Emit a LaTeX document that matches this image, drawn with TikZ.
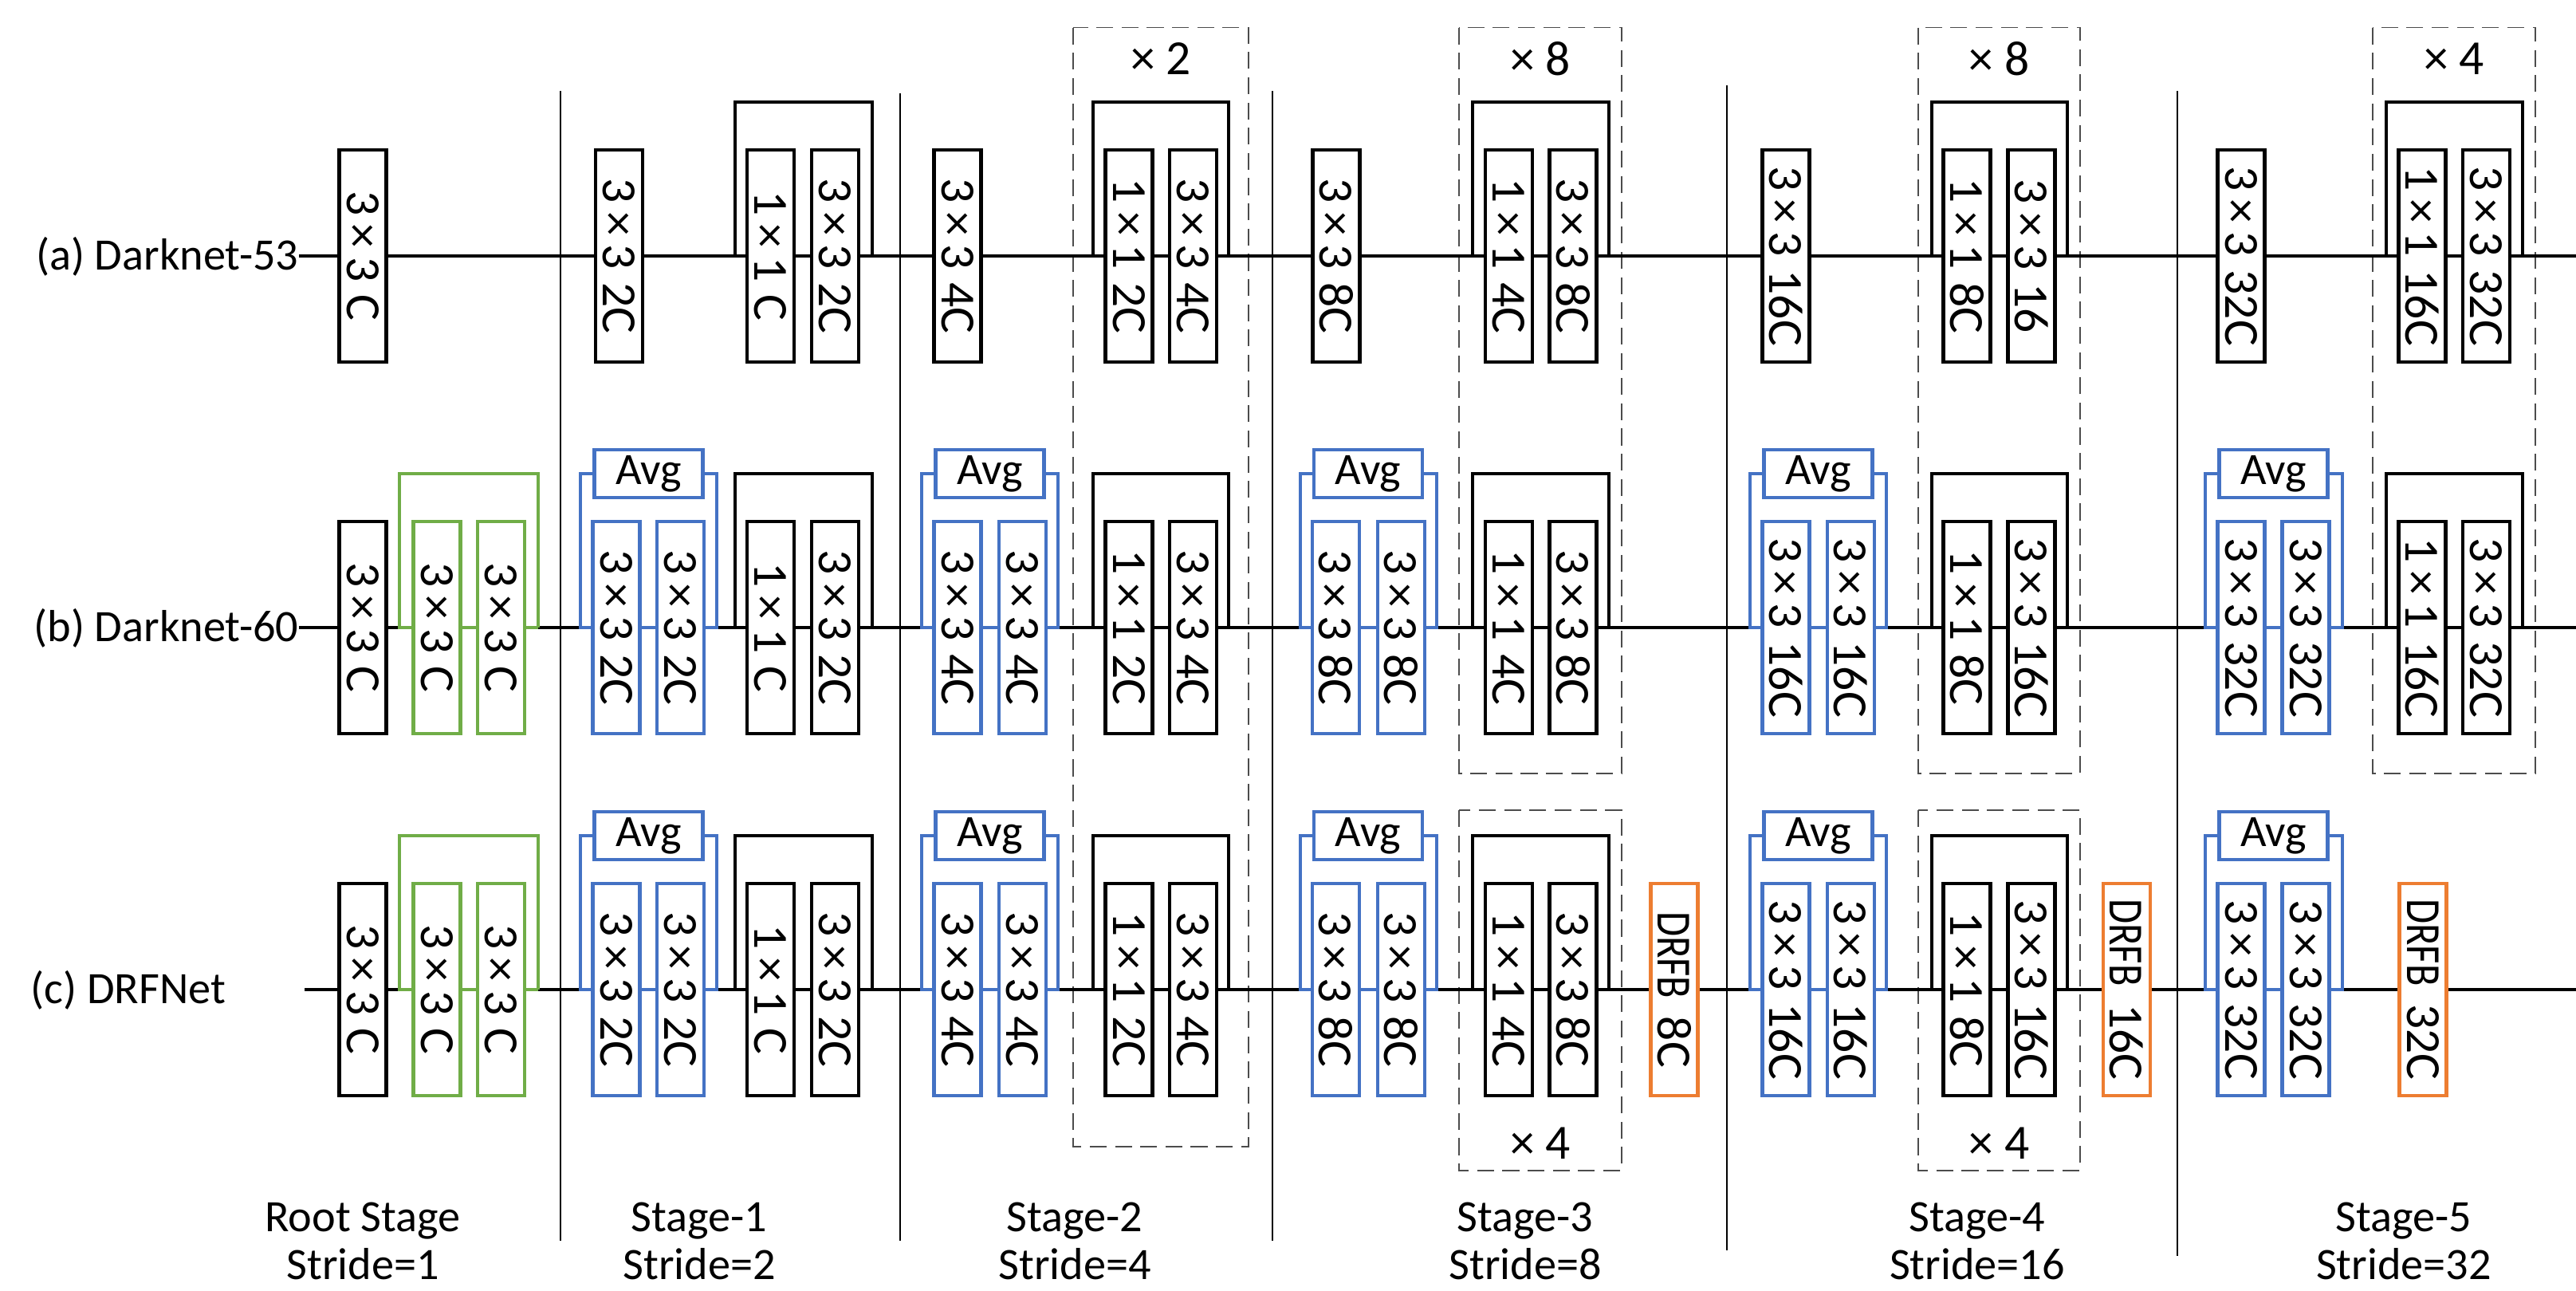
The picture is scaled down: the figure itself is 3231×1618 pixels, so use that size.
\documentclass[tikz,border=0pt]{standalone}
\usepackage{fontspec}
\setmainfont{Carlito}
\usepackage{graphicx}
\definecolor{myblue}{HTML}{4472C4}
\definecolor{mygreen}{HTML}{70AD47}
\definecolor{myorange}{HTML}{ED7D31}
\pgfdeclarelayer{background}
\pgfsetlayers{background,main}
\newcommand{\bxf}{\fontsize{17.5}{21}\selectfont}
\newcommand{\lbf}{\fontsize{16}{19}\selectfont}
\newcommand{\cv}[3]{\rotatebox{-90}{#1\kern0.17em×\kern0.17em#2\hspace{0.27em}#3}}
\newcommand{\dr}[1]{\rotatebox{-90}{\scalebox{0.82}[1]{DRFB}\hspace{0.37em}#1}}
\newcommand{\resbr}[4]{\coordinate (#1L) at (#2,#4); \coordinate (#1R) at (#3,#4);
  \draw[wire] (#1L) -- ++(0,-193) -| (#1R);}
\newcommand{\grnbr}[4]{\coordinate (#1L) at (#2,#4); \coordinate (#1R) at (#3,#4);
  \draw[gwire] (#1R) -- (#1L) -- ++(0,-193) -| (#1R);}
\newcommand{\avgbr}[4]{\coordinate (#1L) at (#2,#4); \coordinate (#1R) at (#3,#4);
  \draw[bwire] (#1.west) -| (#1L) -- (#1R) |- (#1.east);}
\begin{document}
\begin{tikzpicture}[x=0.01cm,y=-0.01cm,
  cb/.style={draw=black, fill=white, line width=1.2pt, minimum width=0.59cm, minimum height=2.66cm, inner sep=0pt, font=\bxf},
  cblue/.style={cb, draw=myblue},
  cgreen/.style={cb, draw=mygreen},
  corange/.style={cb, draw=myorange},
  avgbox/.style={draw=myblue, fill=white, line width=1.2pt, minimum width=1.36cm, minimum height=0.60cm, inner sep=0pt, font=\lbf},
  wire/.style={line width=1.2pt, draw=black},
  bwire/.style={line width=1.1pt, draw=myblue},
  gwire/.style={line width=1.1pt, draw=mygreen},
  sep/.style={line width=0.8pt, draw=black},
  rep/.style={draw=black!70, line width=0.5pt, dash pattern=on 6pt off 3pt},
  lbl/.style={font=\lbf, inner sep=0pt},
  cnt/.style={font=\bxf, inner sep=0pt}]
\useasboundingbox (0,0) rectangle (3231,1618);

% ---------- row labels ----------
\node[lbl, anchor=base east] (la) at (375,338.5) {(a) Darknet-53};
\node[lbl, anchor=base east] (lb) at (375,804.5) {(b) Darknet-60};
\node[lbl, anchor=base west] (lc) at (38,1258.5) {(c) DRFNet};
\coordinate (cS) at (382,1241);
\coordinate (aE) at (3231,321);
\coordinate (bE) at (3231,787);
\coordinate (cE) at (3231,1241);

% ---------- row (a) ----------
\node[cb] (a0) at (455,321) {\cv{3}{3}{C}};
\node[cb] (a1) at (776.5,321) {\cv{3}{3}{2C}};
\node[cb] (a2) at (966.5,321) {\cv{1}{1}{C}};
\node[cb] (a3) at (1047.5,321) {\cv{3}{3}{2C}};
\node[cb] (a4) at (1201,321) {\cv{3}{3}{4C}};
\node[cb] (a5) at (1416,321) {\cv{1}{1}{2C}};
\node[cb] (a6) at (1496.5,321) {\cv{3}{3}{4C}};
\node[cb] (a7) at (1676,321) {\cv{3}{3}{8C}};
\node[cb] (a8) at (1892.5,321) {\cv{1}{1}{4C}};
\node[cb] (a9) at (1973,321) {\cv{3}{3}{8C}};
\node[cb] (a10) at (2240,321) {\cv{3}{3}{16C}};
\node[cb] (a11) at (2467,321) {\cv{1}{1}{8C}};
\node[cb] (a12) at (2548,321) {\cv{3}{3}{16}};
\node[cb] (a13) at (2811,321) {\cv{3}{3}{32C}};
\node[cb] (a14) at (3038,321) {\cv{1}{1}{16C}};
\node[cb] (a15) at (3118.5,321) {\cv{3}{3}{32C}};

% ---------- row (b) ----------
\node[cb] (b0) at (455,787) {\cv{3}{3}{C}};
\node[cgreen] (g1) at (548,787) {\cv{3}{3}{C}};
\node[cgreen] (g2) at (628.5,787) {\cv{3}{3}{C}};
\node[cblue] (b1) at (773,787) {\cv{3}{3}{2C}};
\node[cblue] (b2) at (853.5,787) {\cv{3}{3}{2C}};
\node[cb] (b3) at (966.5,787) {\cv{1}{1}{C}};
\node[cb] (b4) at (1047.5,787) {\cv{3}{3}{2C}};
\node[cblue] (b5) at (1201,787) {\cv{3}{3}{4C}};
\node[cblue] (b6) at (1282.5,787) {\cv{3}{3}{4C}};
\node[cb] (b7) at (1416,787) {\cv{1}{1}{2C}};
\node[cb] (b8) at (1496.5,787) {\cv{3}{3}{4C}};
\node[cblue] (b9) at (1675.5,787) {\cv{3}{3}{8C}};
\node[cblue] (b10) at (1757.5,787) {\cv{3}{3}{8C}};
\node[cb] (b11) at (1892.5,787) {\cv{1}{1}{4C}};
\node[cb] (b12) at (1973,787) {\cv{3}{3}{8C}};
\node[cblue] (b13) at (2240,787) {\cv{3}{3}{16C}};
\node[cblue] (b14) at (2321.5,787) {\cv{3}{3}{16C}};
\node[cb] (b15) at (2467,787) {\cv{1}{1}{8C}};
\node[cb] (b16) at (2548,787) {\cv{3}{3}{16C}};
\node[cblue] (b17) at (2811,787) {\cv{3}{3}{32C}};
\node[cblue] (b18) at (2892,787) {\cv{3}{3}{32C}};
\node[cb] (b19) at (3038,787) {\cv{1}{1}{16C}};
\node[cb] (b20) at (3118.5,787) {\cv{3}{3}{32C}};
\node[avgbox] (av1b) at (813.5,594) {Avg};
\node[avgbox] (av2b) at (1241.5,594) {Avg};
\node[avgbox] (av3b) at (1716,594) {Avg};
\node[avgbox] (av4b) at (2280.5,594) {Avg};
\node[avgbox] (av5b) at (2851.5,594) {Avg};

% ---------- row (c) ----------
\node[cb] (c0) at (455,1241) {\cv{3}{3}{C}};
\node[cgreen] (h1) at (548,1241) {\cv{3}{3}{C}};
\node[cgreen] (h2) at (628.5,1241) {\cv{3}{3}{C}};
\node[cblue] (c1) at (773,1241) {\cv{3}{3}{2C}};
\node[cblue] (c2) at (853.5,1241) {\cv{3}{3}{2C}};
\node[cb] (c3) at (966.5,1241) {\cv{1}{1}{C}};
\node[cb] (c4) at (1047.5,1241) {\cv{3}{3}{2C}};
\node[cblue] (c5) at (1201,1241) {\cv{3}{3}{4C}};
\node[cblue] (c6) at (1282.5,1241) {\cv{3}{3}{4C}};
\node[cb] (c7) at (1416,1241) {\cv{1}{1}{2C}};
\node[cb] (c8) at (1496.5,1241) {\cv{3}{3}{4C}};
\node[cblue] (c9) at (1675.5,1241) {\cv{3}{3}{8C}};
\node[cblue] (c10) at (1757.5,1241) {\cv{3}{3}{8C}};
\node[cb] (c11) at (1892.5,1241) {\cv{1}{1}{4C}};
\node[cb] (c12) at (1973,1241) {\cv{3}{3}{8C}};
\node[corange] (d1) at (2100,1241) {\dr{8C}};
\node[cblue] (c13) at (2240,1241) {\cv{3}{3}{16C}};
\node[cblue] (c14) at (2321.5,1241) {\cv{3}{3}{16C}};
\node[cb] (c15) at (2467,1241) {\cv{1}{1}{8C}};
\node[cb] (c16) at (2548,1241) {\cv{3}{3}{16C}};
\node[corange] (d2) at (2667.5,1241) {\dr{16C}};
\node[cblue] (c17) at (2811,1241) {\cv{3}{3}{32C}};
\node[cblue] (c18) at (2892,1241) {\cv{3}{3}{32C}};
\node[corange] (d3) at (3039,1241) {\dr{32C}};
\node[avgbox] (av1c) at (813.5,1048) {Avg};
\node[avgbox] (av2c) at (1241.5,1048) {Avg};
\node[avgbox] (av3c) at (1716,1048) {Avg};
\node[avgbox] (av4c) at (2280.5,1048) {Avg};
\node[avgbox] (av5c) at (2851.5,1048) {Avg};

% ---------- repeat counts ----------
\node[cnt] (n1) at (1456,73.6) {× 2};
\node[cnt] (n2) at (1932,73.6) {× 8};
\node[cnt] (n3) at (2507.5,73.6) {× 8};
\node[cnt] (n4) at (3078,73.6) {× 4};
\node[cnt] (n5) at (1932,1433.5) {× 4};
\node[cnt] (n6) at (2507.5,1433.5) {× 4};

% ---------- stage labels ----------
\node[lbl, anchor=base] (s0a) at (455,1544) {Root Stage};
\node[lbl, anchor=base] (s0b) at (455,1604) {Stride=1};
\node[lbl, anchor=base] (s1a) at (877,1544) {Stage-1};
\node[lbl, anchor=base] (s1b) at (877,1604) {Stride=2};
\node[lbl, anchor=base] (s2a) at (1348,1544) {Stage-2};
\node[lbl, anchor=base] (s2b) at (1348,1604) {Stride=4};
\node[lbl, anchor=base] (s3a) at (1913,1544) {Stage-3};
\node[lbl, anchor=base] (s3b) at (1913,1604) {Stride=8};
\node[lbl, anchor=base] (s4a) at (2480,1544) {Stage-4};
\node[lbl, anchor=base] (s4b) at (2480,1604) {Stride=16};
\node[lbl, anchor=base] (s5a) at (3015,1544) {Stage-5};
\node[lbl, anchor=base] (s5b) at (3015,1604) {Stride=32};

\begin{pgfonlayer}{background}
% repeat frames
\draw[rep] (1346,34.6) rectangle (1566,1438);
\draw[rep] (1830,34.6) rectangle (2034,970);
\draw[rep] (1830,1016) rectangle (2034,1468);
\draw[rep] (2406,34.6) rectangle (2609,970);
\draw[rep] (2406,1016) rectangle (2609,1468);
\draw[rep] (2976,34.6) rectangle (3180,970);
% stage separators
\draw[sep] (703,114) -- (703,1556);
\draw[sep] (1129,117) -- (1129,1556);
\draw[sep] (1596,114) -- (1596,1556);
\draw[sep] (2166,107) -- (2166,1568);
\draw[sep] (2731,114) -- (2731,1575);
% main wires
\draw[wire] (la.east |- a0) -- (a0) -- (a1) -- (a2) -- (a3) -- (a4) -- (a5) -- (a6) -- (a7) -- (a8) -- (a9) -- (a10) -- (a11) -- (a12) -- (a13) -- (a14) -- (a15) -- (aE);
\draw[wire] (lb.east |- b0) -- (b0) -- (g1) -- (g2) -- (b1) -- (b2) -- (b3) -- (b4) -- (b5) -- (b6) -- (b7) -- (b8) -- (b9) -- (b10) -- (b11) -- (b12) -- (b13) -- (b14) -- (b15) -- (b16) -- (b17) -- (b18) -- (b19) -- (b20) -- (bE);
\draw[wire] (cS) -- (c0) -- (h1) -- (h2) -- (c1) -- (c2) -- (c3) -- (c4) -- (c5) -- (c6) -- (c7) -- (c8) -- (c9) -- (c10) -- (c11) -- (c12) -- (d1) -- (c13) -- (c14) -- (c15) -- (c16) -- (d2) -- (c17) -- (c18) -- (d3) -- (cE);
% residual skips
\resbr{ra1}{922}{1094}{321}
\resbr{ra2}{1371}{1541}{321}
\resbr{ra3}{1847}{2018}{321}
\resbr{ra4}{2423}{2593}{321}
\resbr{ra5}{2993}{3164}{321}
\resbr{rb1}{922}{1094}{787}
\resbr{rb2}{1371}{1541}{787}
\resbr{rb3}{1847}{2018}{787}
\resbr{rb4}{2423}{2593}{787}
\resbr{rb5}{2993}{3164}{787}
\resbr{rc1}{922}{1094}{1241}
\resbr{rc2}{1371}{1541}{1241}
\resbr{rc3}{1847}{2018}{1241}
\resbr{rc4}{2423}{2593}{1241}
% green root skips
\grnbr{gb}{501}{675}{787}
\grnbr{gc}{501}{675}{1241}
% blue avg skips
\avgbr{av1b}{728}{899}{787}
\avgbr{av2b}{1156}{1327}{787}
\avgbr{av3b}{1631}{1802}{787}
\avgbr{av4b}{2195}{2366}{787}
\avgbr{av5b}{2766}{2938}{787}
\avgbr{av1c}{728}{899}{1241}
\avgbr{av2c}{1156}{1327}{1241}
\avgbr{av3c}{1631}{1802}{1241}
\avgbr{av4c}{2195}{2366}{1241}
\avgbr{av5c}{2766}{2938}{1241}
\end{pgfonlayer}
\end{tikzpicture}
\end{document}
